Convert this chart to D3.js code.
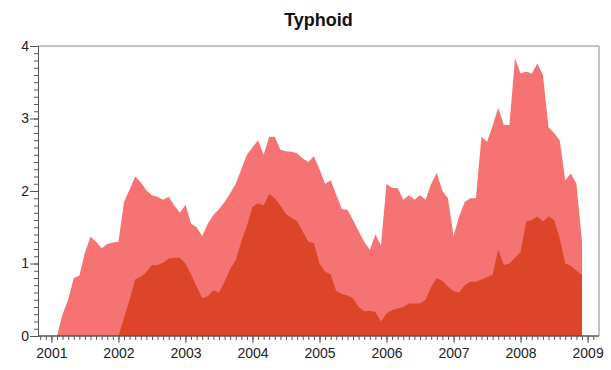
<!DOCTYPE html>
<html>
<head>
<meta charset="utf-8">
<script src="https://cdn.jsdelivr.net/npm/d3@7"></script>
<style>
  html, body { margin: 0; padding: 0; background: #fff; }
  svg { display: block; }
</style>
</head>
<body>
<svg id="chart" width="611" height="370"></svg>
<script>
// ---- data ----
const title = "Typhoid";
// monthly series, first value = Feb 2001
const lightStart = 2001 + 1 / 12;
const lightValues = [
  0.00, 0.30, 0.50, 0.80, 0.83, 1.15, 1.37, 1.30, 1.21, 1.27, 1.29,
  1.30, 1.85, 2.02, 2.20, 2.12, 2.01, 1.94, 1.92, 1.88, 1.92, 1.80, 1.70,
  1.81, 1.55, 1.50, 1.38, 1.55, 1.67, 1.75, 1.85, 1.97, 2.10, 2.30, 2.50,
  2.60, 2.70, 2.50, 2.75, 2.75, 2.57, 2.55, 2.54, 2.52, 2.45, 2.40, 2.48,
  2.30, 2.10, 2.15, 1.95, 1.75, 1.74, 1.60, 1.45, 1.30, 1.19, 1.40, 1.25,
  2.10, 2.04, 2.04, 1.88, 1.94, 1.88, 1.94, 1.88, 2.10, 2.25, 2.00, 1.90,
  1.38, 1.65, 1.85, 1.90, 1.90, 2.75, 2.68, 2.90, 3.15, 2.91, 2.91, 3.83,
  3.62, 3.65, 3.62, 3.76, 3.60, 2.88, 2.80, 2.70, 2.15, 2.24, 2.10, 1.30
];
// first value = Jan 2002
const darkStart = 2002;
const darkValues = [
  0.00, 0.25, 0.50, 0.78, 0.82, 0.88, 0.98, 0.98, 1.01, 1.07, 1.08, 1.08,
  1.00, 0.85, 0.68, 0.52, 0.55, 0.63, 0.60, 0.75, 0.92, 1.05, 1.30, 1.52,
  1.78, 1.83, 1.80, 1.96, 1.90, 1.80, 1.68, 1.63, 1.58, 1.44, 1.30, 1.28,
  1.00, 0.89, 0.85, 0.62, 0.58, 0.56, 0.52, 0.40, 0.34, 0.35, 0.33, 0.20,
  0.31, 0.36, 0.38, 0.40, 0.45, 0.45, 0.45, 0.50, 0.68, 0.80, 0.76, 0.68,
  0.62, 0.60, 0.70, 0.75, 0.75, 0.78, 0.81, 0.85, 1.19, 0.98, 1.00, 1.08,
  1.16, 1.58, 1.60, 1.65, 1.58, 1.65, 1.60, 1.35, 1.00, 0.97, 0.90, 0.84
];
const yearTicks = [2001, 2002, 2003, 2004, 2005, 2006, 2007, 2008, 2009];
const yTicks = [0, 1, 2, 3, 4];

(function () {
// ---- layout ----
const mLeft = 38, mRight = 599, mTop = 46, mBottom = 336;
const svg = d3.select("#chart");
const font = "Liberation Sans, Arial, Helvetica, sans-serif";

const x = d3.scaleLinear().domain([2000.8, 2009.17]).range([mLeft, mRight]);
const y = d3.scaleLinear().domain([0, 4]).range([mBottom, mTop]);

const toPoints = (start, vals) => vals.map((v, i) => ({ t: start + i / 12, v }));
const light = toPoints(lightStart, lightValues);
const dark = toPoints(darkStart, darkValues);

const area = d3.area().x(d => x(d.t)).y0(y(0)).y1(d => y(d.v));

svg.append("path").datum(light).attr("d", area).attr("fill", "#f57372");
svg.append("path").datum(dark).attr("d", area).attr("fill", "#dc4527");

// frame (top and right)
const axisColor = "#555";
svg.append("path")
  .attr("d", `M${mLeft},${mTop}H${mRight}V${mBottom}`)
  .attr("fill", "none").attr("stroke", "#888").attr("stroke-width", 1);

// y axis
const yMinor = d3.range(0, 40.5, 1).map(d => d / 10);
const yAxisMinor = d3.axisLeft(y).tickValues(yMinor).tickSize(4).tickFormat("");
const yAxisMajor = d3.axisLeft(y).tickValues(yTicks).tickSize(8).tickFormat(d3.format("d"));
const gy1 = svg.append("g").attr("transform", `translate(${mLeft},0)`).call(yAxisMinor);
const gy2 = svg.append("g").attr("transform", `translate(${mLeft},0)`).call(yAxisMajor);
[gy1, gy2].forEach(g => {
  g.select(".domain").attr("stroke", axisColor);
  g.selectAll(".tick line").attr("stroke", axisColor);
});
gy2.selectAll(".tick text")
  .attr("font-family", font)
  .attr("font-size", 14).attr("fill", "#222").attr("x", -9);

// x axis
const xMinor = d3.range(2000 * 12 + 10, 2009 * 12 + 2).map(m => m / 12);
const xAxisMinor = d3.axisBottom(x).tickValues(xMinor).tickSize(4).tickFormat("");
const xAxisMajor = d3.axisBottom(x).tickValues(yearTicks).tickSize(7).tickFormat(d3.format("d"));
const gx1 = svg.append("g").attr("transform", `translate(0,${mBottom})`).call(xAxisMinor);
const gx2 = svg.append("g").attr("transform", `translate(0,${mBottom})`).call(xAxisMajor);
[gx1, gx2].forEach(g => {
  g.select(".domain").attr("stroke", axisColor).attr("d", `M${mLeft},0H${mRight}`);
  g.selectAll(".tick line").attr("stroke", axisColor);
});
gx2.selectAll(".tick text")
  .attr("font-family", font)
  .attr("font-size", 14).attr("fill", "#222").attr("y", 12);

// title
svg.append("text")
  .attr("x", (mLeft + mRight) / 2).attr("y", 26)
  .attr("text-anchor", "middle")
  .attr("font-family", font)
  .attr("font-weight", "bold").attr("font-size", 18).attr("fill", "#111")
  .text(title);
})();
</script>
</body>
</html>
